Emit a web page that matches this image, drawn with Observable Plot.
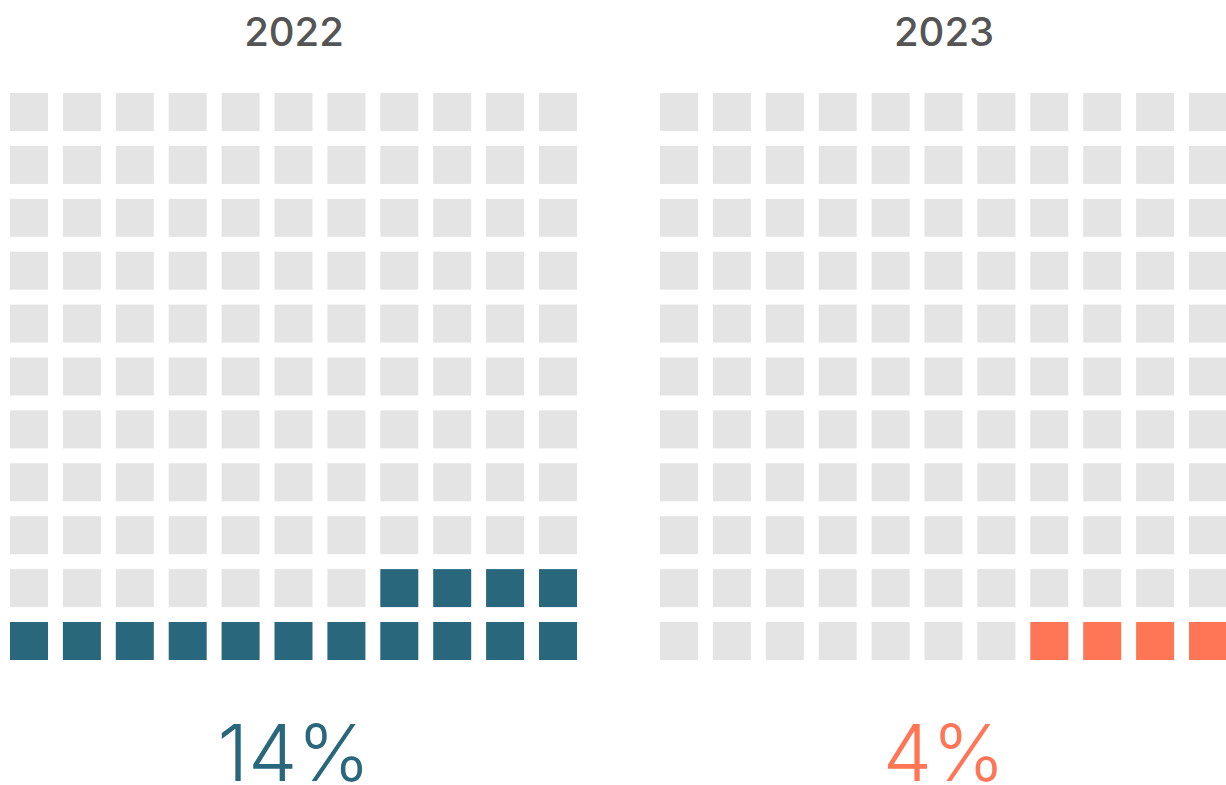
<!DOCTYPE html>
<html>
<head>
<meta charset="utf-8">
<script src="https://cdn.jsdelivr.net/npm/d3@7"></script>
<script src="https://cdn.jsdelivr.net/npm/@observablehq/plot@0.6"></script>
<style>
  html, body { margin: 0; padding: 0; background: #fff; }
  svg { display: block; }
</style>
</head>
<body>
<div id="chart"></div>
<script>
// Data
const years = ["2022", "2023"];
const filledCells = [15, 4];
const percentLabels = ["14%", "4%"];
const seriesColors = ["#29687c", "#ff7657"];
const emptyColor = "#e4e4e4";
const cols = 11;
const rows = 11;

// Layout (in cell-pitch units)
const cellSize = 38 / 52.9;
const groupOffset = 650 / 52.9;
const groupCenter = (cols - 1 + cellSize) / 2;

const cells = [];
years.forEach((yr, g) => {
  for (let i = 0; i < cols * rows; i++) {
    const row = Math.floor(i / cols);
    const col = cols - 1 - (i % cols);
    cells.push({year: yr, g, col, row, on: i < filledCells[g]});
  }
});

const groups = years.map((y, g) => ({year: y, g, label: percentLabels[g], color: seriesColors[g]}));

const chart = Plot.plot({
  width: 1226,
  height: 785,
  margin: 0,
  x: {domain: [0, 23], range: [10, 10 + 23 * 52.9], axis: null},
  y: {domain: [0, 11], range: [660, 660 - 11 * 52.9], axis: null},
  marks: [
    Plot.rect(cells, {
      x1: d => d.g * groupOffset + d.col,
      x2: d => d.g * groupOffset + d.col + cellSize,
      y1: d => d.row,
      y2: d => d.row + cellSize,
      fill: d => d.on ? seriesColors[d.g] : emptyColor
    }),
    Plot.text(groups, {
      x: d => d.g * groupOffset + groupCenter,
      frameAnchor: "top",
      dy: 33,
      lineAnchor: "middle",
      text: d => d.year,
      fill: "#555555",
      fontSize: 40,
      fontWeight: 500,
      fontFamily: "Inter, 'Liberation Sans', sans-serif"
    }),
    Plot.text(groups, {
      x: d => d.g * groupOffset + groupCenter,
      frameAnchor: "bottom",
      lineAnchor: "bottom",
      dy: -5,
      text: d => d.label,
      fill: d => d.color,
      fontSize: 78,
      fontWeight: 300,
      fontFamily: "Inter, 'Liberation Sans', sans-serif"
    })
  ]
});
document.getElementById("chart").append(chart);
</script>
</body>
</html>
